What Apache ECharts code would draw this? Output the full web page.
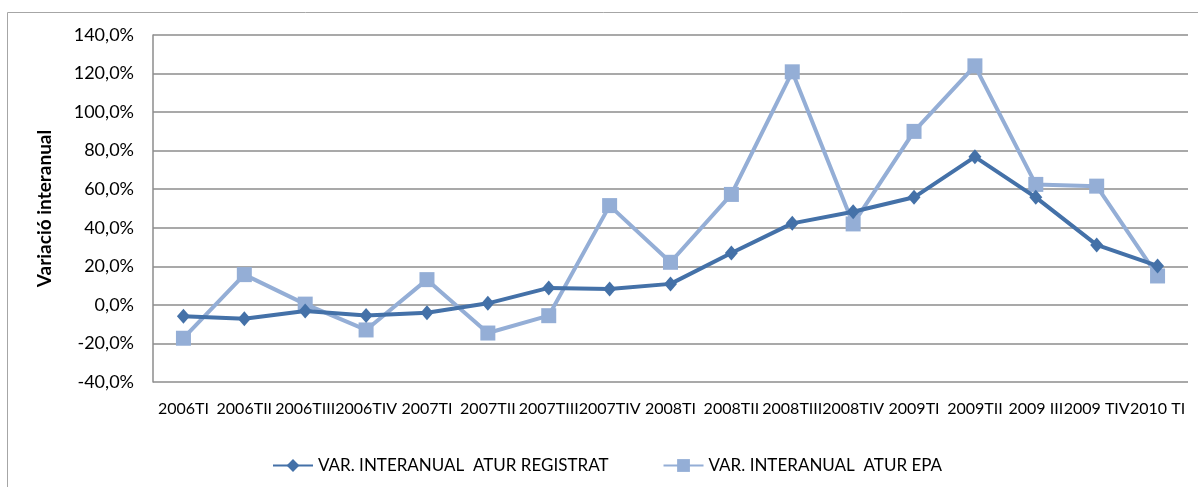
<!DOCTYPE html>
<html>
<head>
<meta charset="utf-8">
<script src="https://cdn.jsdelivr.net/npm/echarts@6/dist/echarts.min.js"></script>
<style>
  html, body { margin: 0; padding: 0; background: #fff; }
  #chart { width: 1198px; height: 487px; }
</style>
</head>
<body>
<div id="chart"></div>
<script>
// trimestres
var categories = ['2006TI', '2006TII', '2006TIII', '2006TIV', '2007TI', '2007TII', '2007TIII', '2007TIV',
  '2008TI', '2008TII', '2008TIII', '2008TIV', '2009TI', '2009TII', '2009 III', '2009 TIV', '2010 TI'];

// variació interanual (%)
var aturRegistrat = [-5.9, -7.2, -3.2, -5.5, -4.1, 0.8, 8.8, 8.3, 10.9, 26.9, 42.3, 48.3, 55.8, 76.8, 55.8, 31.1, 20.2];
var aturEpa = [-17.3, 15.7, 0.4, -13.0, 13.1, -14.6, -5.6, 51.5, 22.1, 57.3, 120.9, 42.0, 90.0, 124.0, 62.5, 61.6, 15.0];

var yTicks = { min: -40, max: 140, interval: 20 };

var myChart = echarts.init(document.getElementById('chart'));
var fontFam = 'Lato, "Open Sans", sans-serif';

var option = {
  animation: false,
  graphic: [{
    type: 'rect',
    shape: { x: 7.5, y: 12.5, width: 1200, height: 500 },
    style: { fill: 'none', stroke: '#a6a6a6', lineWidth: 1 },
    silent: true
  }],
  grid: { left: 153, right: 10, top: 35, bottom: 105 },
  legend: {
    bottom: 8,
    left: 267,
    itemGap: 54,
    itemWidth: 40,
    itemHeight: 16,
    textStyle: { fontFamily: fontFam, fontSize: 17, color: '#000' },
    data: ['VAR. INTERANUAL  ATUR REGISTRAT', 'VAR. INTERANUAL  ATUR EPA']
  },
  xAxis: {
    type: 'category',
    data: categories,
    boundaryGap: true,
    axisLine: { show: false },
    axisTick: { show: false },
    axisLabel: { interval: 0, margin: 19, fontFamily: fontFam, fontSize: 16, color: '#000' }
  },
  yAxis: {
    type: 'value',
    min: yTicks.min,
    max: yTicks.max,
    interval: yTicks.interval,
    name: 'Variació interanual',
    nameLocation: 'middle',
    nameGap: 99,
    nameTextStyle: { fontFamily: fontFam, fontSize: 19, fontWeight: 'bold', color: '#000' },
    axisLine: { show: true, lineStyle: { color: '#8c8c8c', width: 1.5 } },
    axisTick: { show: false },
    axisLabel: {
      margin: 19,
      fontFamily: fontFam, fontSize: 18, color: '#000',
      formatter: function (v) { return v.toFixed(1).replace('.', ',') + '%'; }
    },
    splitLine: { lineStyle: { color: '#8c8c8c', width: 1.5 } }
  },
  series: [
    {
      name: 'VAR. INTERANUAL  ATUR REGISTRAT',
      type: 'line',
      data: aturRegistrat,
      symbol: 'diamond',
      symbolSize: [13, 15],
      showAllSymbol: true,
      z: 3,
      itemStyle: { color: '#4471a8' },
      lineStyle: { color: '#4471a8', width: 4 }
    },
    {
      name: 'VAR. INTERANUAL  ATUR EPA',
      type: 'line',
      data: aturEpa,
      symbol: 'rect',
      symbolSize: 15,
      showAllSymbol: true,
      z: 2,
      itemStyle: { color: '#94aed6' },
      lineStyle: { color: '#94aed6', width: 4 }
    }
  ]
};
myChart.setOption(option);
</script>
</body>
</html>
